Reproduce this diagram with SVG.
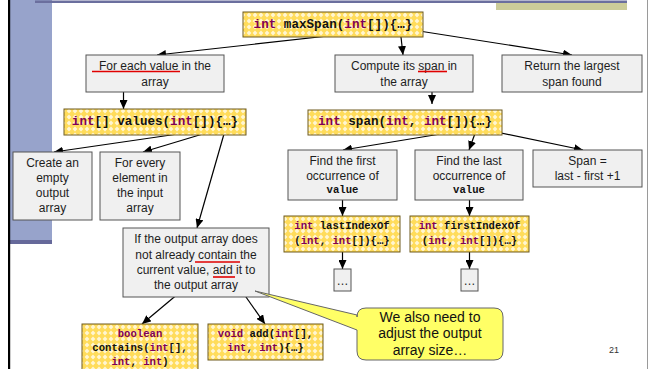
<svg xmlns="http://www.w3.org/2000/svg" width="656" height="369" viewBox="0 0 656 369">
<style>
.box{fill:#F0F0F0;stroke:#555;stroke-width:1}
.cbox{fill:url(#chk);stroke:#6E5B1E;stroke-width:1}
.t{font-family:"Liberation Sans",Arial,sans-serif;font-size:12px;fill:#1E1E1E;text-anchor:middle}
.c{font-family:"Liberation Mono","Courier New",monospace;font-weight:bold;fill:#111;text-anchor:middle}
.c12{font-size:12.6px}
.c10{font-size:10.6px}
.kw{fill:#7F0055}
.ln{stroke:#000;stroke-width:1.2;fill:none;marker-end:url(#ah)}
.ul{stroke:#E00000;stroke-width:1.6}
</style>
<defs>
<pattern id="chk" width="6" height="6" patternUnits="userSpaceOnUse">
<rect width="6" height="6" fill="#FFDC5A"/>
<path d="M3 0.6 L5.4 3 L3 5.4 L0.6 3Z" fill="#FFF6D2"/>
</pattern>
<marker id="ah" markerWidth="9" markerHeight="8" refX="9" refY="4" orient="auto" markerUnits="userSpaceOnUse">
<path d="M0,0 L9,4 L0,8 Z" fill="#000"/>
</marker>
</defs>
<rect width="656" height="369" fill="#FFFFFF"/>
<g id="frame">
<rect x="10" y="0" width="42" height="241" fill="#97A3CB"/>
<rect x="10" y="240" width="42" height="4" fill="#66699A"/>
<rect x="8" y="0" width="2.2" height="369" fill="#000"/>
<rect x="35" y="0.5" width="592" height="2.5" fill="#6B6F9E"/>
<rect x="496" y="3" width="131" height="7" fill="#CCCC99"/>
<line x1="647.5" y1="0" x2="647.5" y2="369" stroke="#9A9A9A" stroke-width="1"/>
</g>
<g id="connectors">
<line class="ln" x1="400" y1="28" x2="157" y2="55"/>
<line class="ln" x1="400" y1="28" x2="403" y2="55"/>
<line class="ln" x1="400" y1="28" x2="572" y2="55"/>
<line class="ln" x1="123.5" y1="71" x2="123.5" y2="109"/>
<line class="ln" x1="432" y1="72" x2="432" y2="104"/>
<line class="ln" x1="226" y1="127" x2="54" y2="152"/>
<line class="ln" x1="226" y1="127" x2="143" y2="152"/>
<line class="ln" x1="226" y1="127" x2="197" y2="228"/>
<line class="ln" x1="477" y1="128" x2="343" y2="150"/>
<line class="ln" x1="477" y1="128" x2="469" y2="150"/>
<line class="ln" x1="477" y1="128" x2="583" y2="150"/>
<line class="ln" x1="342.5" y1="200" x2="342.5" y2="216"/>
<line class="ln" x1="469.5" y1="200" x2="469.5" y2="216"/>
<line class="ln" x1="342.5" y1="252" x2="342.5" y2="269"/>
<line class="ln" x1="469.5" y1="252" x2="469.5" y2="269"/>
<line class="ln" x1="216" y1="262" x2="142" y2="324"/>
<line class="ln" x1="227" y1="270" x2="265" y2="324"/>
</g>
<g id="maxSpan">
<rect class="cbox" x="243" y="12" width="180" height="25"/>
<text class="c c12" x="333" y="28"><tspan class="kw">int</tspan> maxSpan(<tspan class="kw">int</tspan>[]){…}</text>
</g>
<g id="forEach">
<rect class="box" x="86" y="55" width="138" height="37"/>
<text class="t" x="155" y="70">For each value in the</text>
<text class="t" x="155" y="86">array</text>
<line class="ul" x1="92" y1="71.5" x2="180" y2="71.5"/>
</g>
<g id="computeSpan">
<rect class="box" x="335" y="55" width="138" height="37"/>
<text class="t" x="404" y="70">Compute its span in</text>
<text class="t" x="404" y="86">the array</text>
<line class="ul" x1="418" y1="71.5" x2="447" y2="71.5"/>
</g>
<g id="returnLargest">
<rect class="box" x="502" y="55" width="140" height="37"/>
<text class="t" x="572" y="70">Return the largest</text>
<text class="t" x="572" y="86">span found</text>
</g>
<g id="values">
<rect class="cbox" x="64" y="109" width="182" height="26"/>
<text class="c c12" x="155" y="125"><tspan class="kw">int</tspan>[] values(<tspan class="kw">int</tspan>[]){…}</text>
</g>
<g id="span">
<rect class="cbox" x="308" y="110" width="194" height="25"/>
<text class="c c12" x="405" y="125"><tspan class="kw">int</tspan> span(<tspan class="kw">int</tspan>, <tspan class="kw">int</tspan>[]){…}</text>
</g>
<g id="createEmpty">
<rect class="box" x="13" y="152" width="79" height="68"/>
<text class="t" x="52.5" y="167">Create an</text>
<text class="t" x="52.5" y="182">empty</text>
<text class="t" x="52.5" y="197">output</text>
<text class="t" x="52.5" y="212">array</text>
</g>
<g id="forEvery">
<rect class="box" x="100" y="152" width="80" height="68"/>
<text class="t" x="140" y="167">For every</text>
<text class="t" x="140" y="182">element in</text>
<text class="t" x="140" y="197">the  input</text>
<text class="t" x="140" y="212">array</text>
</g>
<g id="ifNotContain">
<rect class="box" x="123" y="228" width="146" height="69"/>
<text class="t" x="196" y="243">If the output array does</text>
<text class="t" x="196" y="259">not already contain the</text>
<text class="t" x="196" y="274">current value, add it to</text>
<text class="t" x="196" y="289">the output array</text>
<line class="ul" x1="195" y1="262" x2="240" y2="262"/>
<line class="ul" x1="213" y1="277" x2="235" y2="277"/>
</g>
<g id="findFirst">
<rect class="box" x="288" y="150" width="109" height="50"/>
<text class="t" x="342.5" y="165">Find the first</text>
<text class="t" x="342.5" y="180">occurrence of</text>
<text class="c c10" x="342.5" y="193">value</text>
</g>
<g id="findLast">
<rect class="box" x="415" y="150" width="108" height="50"/>
<text class="t" x="469" y="165">Find the last</text>
<text class="t" x="469" y="180">occurrence of</text>
<text class="c c10" x="469" y="193">value</text>
</g>
<g id="spanFormula">
<rect class="box" x="533" y="150" width="109" height="37"/>
<text class="t" x="587.5" y="165">Span =</text>
<text class="t" x="587.5" y="180">last - first +1</text>
</g>
<g id="lastIndexOf">
<rect class="cbox" x="284" y="216" width="116" height="36"/>
<text class="c c10" x="342" y="229"><tspan class="kw">int</tspan> lastIndexOf</text>
<text class="c c10" x="342" y="244">(<tspan class="kw">int</tspan>, <tspan class="kw">int</tspan>[]){…}</text>
</g>
<g id="firstIndexOf">
<rect class="cbox" x="410" y="216" width="119" height="36"/>
<text class="c c10" x="469.5" y="229"><tspan class="kw">int</tspan> firstIndexOf</text>
<text class="c c10" x="469.5" y="244">(<tspan class="kw">int</tspan>, <tspan class="kw">int</tspan>[]){…}</text>
</g>
<g id="dots1">
<rect class="box" x="334" y="269" width="17" height="22"/>
<text class="t" x="342.5" y="285">…</text>
</g>
<g id="dots2">
<rect class="box" x="461" y="269" width="17" height="22"/>
<text class="t" x="469.5" y="285">…</text>
</g>
<g id="contains">
<rect class="cbox" x="82" y="324" width="116" height="50"/>
<text class="c c10" x="140" y="337"><tspan class="kw">boolean</tspan></text>
<text class="c c10" x="140" y="351">contains(<tspan class="kw">int</tspan>[],</text>
<text class="c c10" x="140" y="365"><tspan class="kw">int</tspan>, <tspan class="kw">int</tspan>)</text>
</g>
<g id="add">
<rect class="cbox" x="208" y="324" width="115" height="36"/>
<text class="c c10" x="265.5" y="337"><tspan class="kw">void</tspan> add(<tspan class="kw">int</tspan>[],</text>
<text class="c c10" x="265.5" y="351"><tspan class="kw">int</tspan>, <tspan class="kw">int</tspan>){…}</text>
</g>
<g id="callout">
<path d="M366,308 H494 Q503,308 503,317 V351 Q503,360 494,360 H366 Q357,360 357,351 V330 L255,291 L357,315 V317 Q357,308 366,308 Z" fill="#FFFF66" stroke="#666" stroke-width="1"/>
<text class="t" x="430" y="322" style="font-size:14px;fill:#111">We also need to</text>
<text class="t" x="430" y="338" style="font-size:14px;fill:#111">adjust the output</text>
<text class="t" x="430" y="355" style="font-size:14px;fill:#111">array size…</text>
</g>
<text x="614" y="353" style="font-family:'Liberation Sans',Arial,sans-serif;font-size:9px;fill:#333;text-anchor:middle">21</text>
</svg>
